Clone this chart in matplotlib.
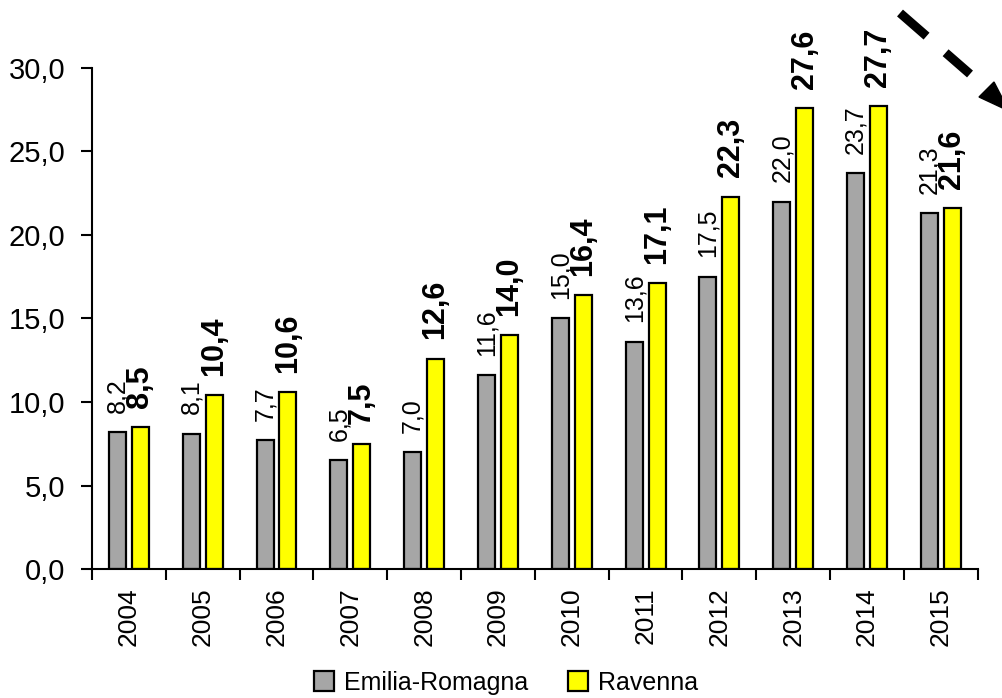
import matplotlib.pyplot as plt
import numpy as np
from matplotlib.lines import Line2D
from matplotlib.patches import Polygon

plt.rcParams['font.family'] = ['Liberation Sans', 'DejaVu Sans']

anni = ['2004', '2005', '2006', '2007', '2008', '2009', '2010', '2011', '2012', '2013', '2014', '2015']
emilia = [8.2, 8.1, 7.7, 6.5, 7.0, 11.6, 15.0, 13.6, 17.5, 22.0, 23.7, 21.3]
ravenna = [8.5, 10.4, 10.6, 7.5, 12.6, 14.0, 16.4, 17.1, 22.3, 27.6, 27.7, 21.6]

def virgola(v):
    return f'{v:.1f}'.replace('.', ',')

W, H = 1002, 698
fig = plt.figure(figsize=(W / 100, H / 100), dpi=100)
ax = fig.add_axes([0.0918, 0.1848, 0.884, 0.7178])

x = np.arange(len(anni))
w = 0.23
off = 0.155
b1 = ax.bar(x - off, emilia, w, color='#A6A6A6', edgecolor='black', linewidth=1.6, label='Emilia-Romagna')
b2 = ax.bar(x + off, ravenna, w, color='#FFFF00', edgecolor='black', linewidth=1.6, label='Ravenna')

for xi, v in zip(x, emilia):
    ax.annotate(virgola(v), (xi - off, v), xytext=(0, 14), textcoords='offset points',
                rotation=90, ha='center', va='bottom', fontsize=18)
for xi, v in zip(x, ravenna):
    ax.annotate(virgola(v), (xi + off, v), xytext=(0, 14), textcoords='offset points',
                rotation=90, ha='center', va='bottom', fontsize=22, fontweight='bold')

ax.set_xlim(-0.5, len(anni) - 0.5)
ax.set_ylim(0, 30)
ax.set_yticks(np.arange(0, 31, 5))
ax.set_yticklabels([virgola(t) for t in np.arange(0, 31, 5)], fontsize=21)
ax.set_xticks(x)
ax.set_xticklabels(anni, rotation=90, fontsize=19)
ax.set_xticks(np.arange(-0.5, len(anni), 1), minor=True)
ax.tick_params(axis='x', which='major', length=0, pad=13)
ax.tick_params(axis='x', which='minor', length=8, width=1.5, direction='out')
ax.tick_params(axis='y', length=8, width=1.5, direction='out', pad=11)
for s in ['top', 'right']:
    ax.spines[s].set_visible(False)
for s in ['left', 'bottom']:
    ax.spines[s].set_linewidth(1.5)

fig.legend(handles=[b1, b2], loc='center', bbox_to_anchor=(0.505, 0.022), ncol=2, frameon=False,
           fontsize=18, handlelength=0.8, handleheight=0.8, handletextpad=0.4, columnspacing=1.6)

# freccia tratteggiata in alto a destra
def fp(px, py):
    return (px / W, 1 - py / H)

(x0, y0), (x1, y1) = fp(900, 13), fp(970, 74)
fig.add_artist(Line2D([x0, x1], [y0, y1], transform=fig.transFigure,
                      color='black', lw=6.5, linestyle=(0, (3.9, 2.8)), solid_capstyle='butt'))
fig.add_artist(Polygon([fp(979, 97), fp(994, 82), fp(1009, 111)], closed=True,
                       transform=fig.transFigure, color='black'))

fig.savefig('out.png', dpi=100)
